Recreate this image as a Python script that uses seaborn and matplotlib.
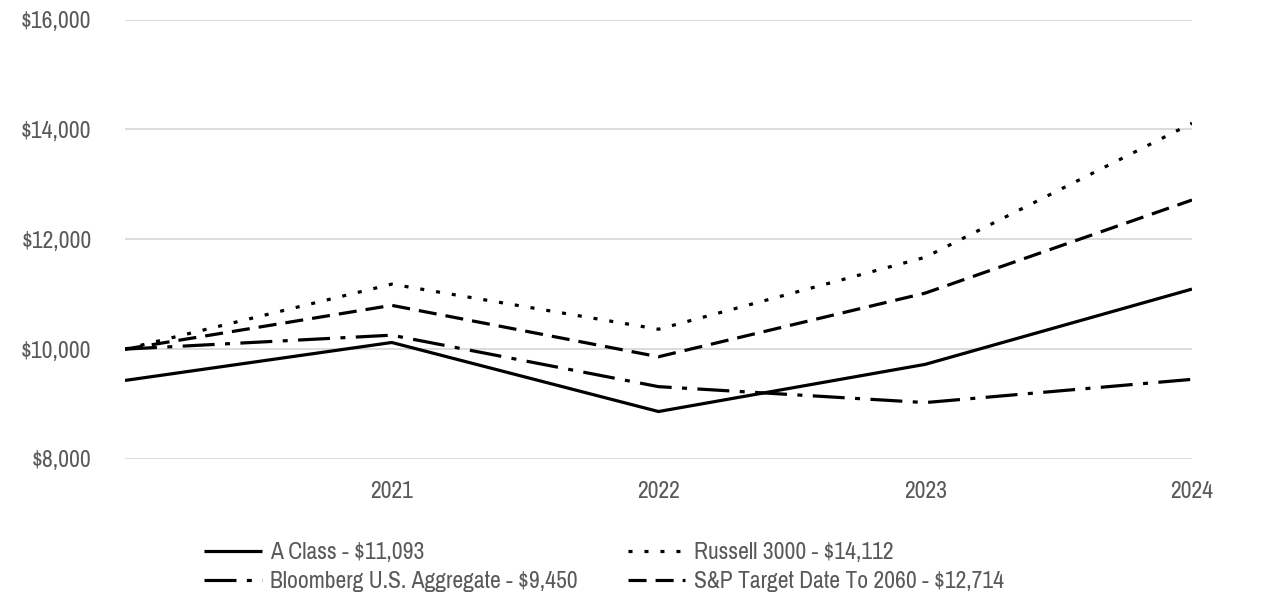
import matplotlib
matplotlib.use("Agg")
import matplotlib.pyplot as plt
from matplotlib import font_manager
import seaborn as sns
import pandas as pd
import numpy as np

# ---- data ----
periods = ["", "2021", "2022", "2023", "2024"]
a_class = [9430, 10121, 8864, 9723, 11093]
russell = [10000, 11183, 10362, 11672, 14112]
bloomberg = [10000, 10254, 9317, 9027, 9450]
sp_target = [10000, 10797, 9861, 11020, 12714]
series_names = ["A Class - $11,093", "Russell 3000 - $14,112",
                "Bloomberg U.S. Aggregate - $9,450", "S&P Target Date To 2060 - $12,714"]
y_ticks = [8000, 10000, 12000, 14000, 16000]

sns.set_theme(style="white")
avail = {f.name for f in font_manager.fontManager.ttflist}
fam = next(f for f in ["Liberation Sans Narrow", "Arial Narrow", "Archivo Narrow",
                       "Roboto Condensed", "Liberation Sans"] if f in avail)
plt.rcParams["font.family"] = [fam, "DejaVu Sans"]
plt.rcParams["lines.scale_dashes"] = False

fig = plt.figure(figsize=(12.86, 6.14), dpi=100)
W, H = 1286, 614
left, right, top, bottom = 125, 1192, 19.5, 459
ax = fig.add_axes([left / W, 1 - bottom / H, (right - left) / W, (bottom - top) / H])

x = np.arange(len(periods))
df = pd.DataFrame({"x": np.tile(x, 4),
                   "value": a_class + russell + bloomberg + sp_target,
                   "series": np.repeat(series_names, len(periods))})

lw = 2.3
styles = {
    series_names[0]: dict(linestyle="-"),
    series_names[1]: dict(linestyle=(0, (2.9, 8.6))),
    series_names[2]: dict(linestyle=(0, (23, 7.5, 3.6, 7.5))),
    series_names[3]: dict(linestyle=(0, (13, 6.5))),
}
for name in series_names:
    sub = df[df["series"] == name]
    sns.lineplot(data=sub, x="x", y="value", ax=ax, color="black", linewidth=lw,
                 label=name, legend=False, **styles[name])
for ln in ax.get_lines():
    ln.set_dash_capstyle("butt")
    ln.set_solid_capstyle("butt")

fs = 17
ax.set_xlim(0, len(periods) - 1)
ax.set_ylim(y_ticks[0], y_ticks[-1])
ax.set_yticks(y_ticks)
ax.set_yticklabels([f"${v:,.0f}" for v in y_ticks])
ax.set_xticks(x[1:])
ax.set_xticklabels(periods[1:])
ax.set_xlabel("")
ax.set_ylabel("")
ax.grid(axis="y", color="#d9d9d9", linewidth=1.3)
ax.grid(axis="x", visible=False)
ax.set_axisbelow(True)
for s in ax.spines.values():
    s.set_visible(False)
ax.tick_params(axis="y", length=0, pad=24, labelsize=fs, labelcolor="#595959")
ax.tick_params(axis="x", length=0, pad=16, labelsize=fs, labelcolor="#595959")

handles = ax.get_lines()
h = [handles[0], handles[2], handles[1], handles[3]]
l = [series_names[0], series_names[2], series_names[1], series_names[3]]
leg = fig.legend(h, l, ncol=2, loc="upper left", bbox_to_anchor=(204 / W, 1 - 542 / H),
                 frameon=False, fontsize=fs, handlelength=2.45, handletextpad=0.36,
                 columnspacing=2.1, labelspacing=0.35, borderaxespad=0, borderpad=0)
for t in leg.get_texts():
    t.set_color("#595959")

fig.savefig("out.png", dpi=100)
